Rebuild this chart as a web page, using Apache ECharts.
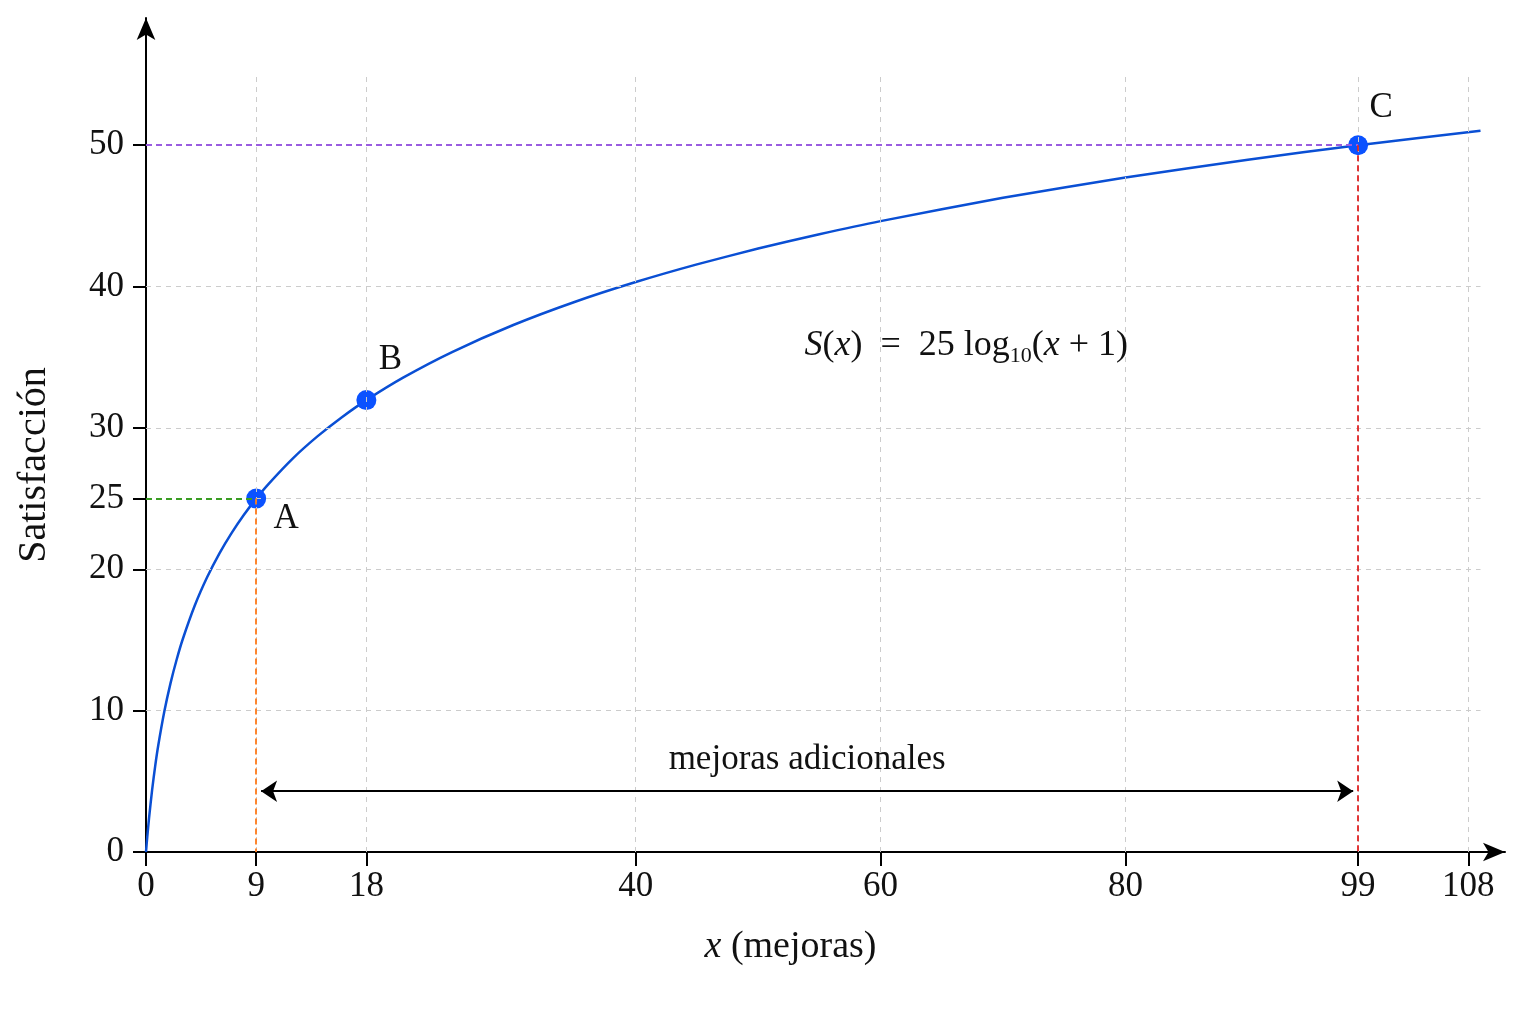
<!DOCTYPE html>
<html>
<head>
<meta charset="utf-8">
<script src="https://cdn.jsdelivr.net/npm/echarts@6/dist/echarts.min.js"></script>
<style>
  html, body { margin: 0; padding: 0; background: #ffffff; }
  #chart { width: 1536px; height: 1024px; }
</style>
</head>
<body>
<div id="chart"></div>
<script>
// curve
var curveX = [0, 0.05, 0.1, 0.25, 0.5, 0.75, 1, 1.5, 2, 2.5, 3, 4, 5, 6, 7, 8, 9, 10, 12, 14, 16, 18, 21, 25, 30, 35, 40, 45, 50, 55, 60, 70, 80, 90, 99, 109];
var curveY = [0, 0.53, 1.03, 2.42, 4.40, 6.08, 7.53, 9.95, 11.93, 13.60, 15.05, 17.47, 19.45, 21.13, 22.58, 23.86, 25, 26.03, 27.85, 29.40, 30.76, 31.97, 33.56, 35.37, 37.28, 38.91, 40.32, 41.57, 42.69, 43.70, 44.63, 46.28, 47.71, 48.98, 50, 51.03];

var pointNames = ['A', 'B', 'C'];
var pointX = [9, 18, 99];
var pointY = [25, 31.97, 50];

var xTicks = [0, 9, 18, 40, 60, 80, 99, 108];
var yTicks = [0, 10, 20, 25, 30, 40, 50];
var xGrid = [9, 18, 40, 60, 80, 99, 108];
var yGrid = [10, 20, 25, 30, 40];

var spanFrom = 9.4, spanTo = 98.6, spanLevel = 4.3;

var serif = 'Liberation Serif';

var gridLines = [];
xGrid.forEach(function (v) {
	gridLines.push([{ coord: [v, 0] }, { coord: [v, 55] }]);
});
yGrid.forEach(function (v) {
	gridLines.push([{ coord: [0, v] }, { coord: [109, v] }]);
});

function guide(x1, y1, x2, y2, color) {
	return [
		{ coord: [x1, y1], lineStyle: { color: color, type: [6, 4], width: 1.8 } },
		{ coord: [x2, y2] }
	];
}

var points = pointNames.map(function (n, i) {
	var offs = [[30, 20], [24, -40], [23, -37]];
	return {
		name: n,
		value: [pointX[i], pointY[i]],
		label: { offset: offs[i] }
	};
});

var curve = curveX.map(function (x, i) { return [x, curveY[i]]; });

var chart = echarts.init(document.getElementById('chart'));
var option = {
	animation: false,
	backgroundColor: '#ffffff',
	grid: { left: 146, right: 31, top: 18, bottom: 172 },
	xAxis: {
		type: 'value',
		min: 0,
		max: 111,
		name: '{i|x} (mejoras)',
		nameLocation: 'middle',
		nameGap: 76,
		nameTextStyle: {
			fontFamily: serif, fontSize: 38, color: '#111',
			padding: [0, 70, 0, 0],
			rich: { i: { fontFamily: serif, fontSize: 38, fontStyle: 'italic', color: '#111' } }
		},
		axisLine: {
			show: true,
			symbol: ['none', 'arrow'],
			symbolSize: [14, 22],
			lineStyle: { color: '#000', width: 2 }
		},
		axisTick: {
			show: true, length: 14, customValues: xTicks,
			lineStyle: { color: '#000', width: 2 }
		},
		axisLabel: {
			customValues: xTicks, margin: 17,
			fontFamily: serif, fontSize: 35, color: '#111'
		},
		splitLine: { show: false }
	},
	yAxis: {
		type: 'value',
		min: 0,
		max: 59,
		name: 'Satisfacción',
		nameLocation: 'middle',
		nameGap: 92,
		nameTextStyle: {
			fontFamily: serif, fontSize: 40, color: '#111',
			padding: [0, 60, 0, 0]
		},
		axisLine: {
			show: true,
			symbol: ['none', 'arrow'],
			symbolSize: [14, 22],
			lineStyle: { color: '#000', width: 2 }
		},
		axisTick: {
			show: true, length: 13, customValues: yTicks,
			lineStyle: { color: '#000', width: 2 }
		},
		axisLabel: {
			customValues: yTicks, margin: 22,
			fontFamily: serif, fontSize: 35, color: '#111'
		},
		splitLine: { show: false }
	},
	series: [
		{
			// dashed grid
			type: 'line',
			data: [[0, 0]],
			symbol: 'none',
			silent: true,
			z: 1,
			markLine: {
				silent: true,
				symbol: 'none',
				label: { show: false },
				lineStyle: { color: '#cccccc', type: [5, 5], width: 1 },
				data: gridLines
			}
		},
		{
			// guide lines and span arrow
			type: 'line',
			data: [[0, 0]],
			symbol: 'none',
			silent: true,
			z: 2,
			markLine: {
				silent: true,
				symbol: 'none',
				label: { show: false },
				data: [
					guide(0, 25, 9, 25, '#3a9d23'),
					guide(9, 25, 9, 0, '#ff7a1a'),
					guide(0, 50, 99, 50, '#9a5ce0'),
					guide(99, 50, 99, 0, '#e02424'),
					[
						{
							coord: [spanFrom, spanLevel],
							symbol: 'arrow',
							symbolSize: 16,
							lineStyle: { color: '#000', type: 'solid', width: 2 },
							label: {
								show: true,
								formatter: 'mejoras adicionales',
								position: 'insideMiddleTop',
								distance: 14,
								fontFamily: serif, fontSize: 35, color: '#111'
							}
						},
						{ coord: [spanTo, spanLevel], symbol: 'arrow', symbolSize: 16 }
					]
				]
			}
		},
		{
			type: 'line',
			data: curve,
			symbol: 'none',
			smooth: 0.2,
			lineStyle: { color: '#0a4fd4', width: 2.5 },
			z: 3
		},
		{
			type: 'scatter',
			data: points,
			symbolSize: 20,
			itemStyle: { color: '#0b52ff', opacity: 1 },
			label: {
				show: true,
				position: 'inside',
				formatter: '{b}',
				fontFamily: serif, fontSize: 35, color: '#111'
			},
			z: 4
		},
		{
			// formula annotation
			type: 'scatter',
			data: [[67, 35.8]],
			symbolSize: 1,
			silent: true,
			itemStyle: { color: 'transparent', opacity: 1 },
			label: {
				show: true,
				position: 'inside',
				formatter: '{i|S}({i|x})  =  25 log{s|10}({i|x} + 1)',
				fontFamily: serif, fontSize: 36, color: '#111',
				rich: {
					i: { fontFamily: serif, fontSize: 36, fontStyle: 'italic', color: '#111' },
					s: { fontFamily: serif, fontSize: 22, color: '#111', padding: [20, 0, 0, 0] }
				}
			},
			z: 5
		}
	]
};
chart.setOption(option);
window.addEventListener('resize', function () {
	chart.resize();
});
</script>
</body>
</html>
